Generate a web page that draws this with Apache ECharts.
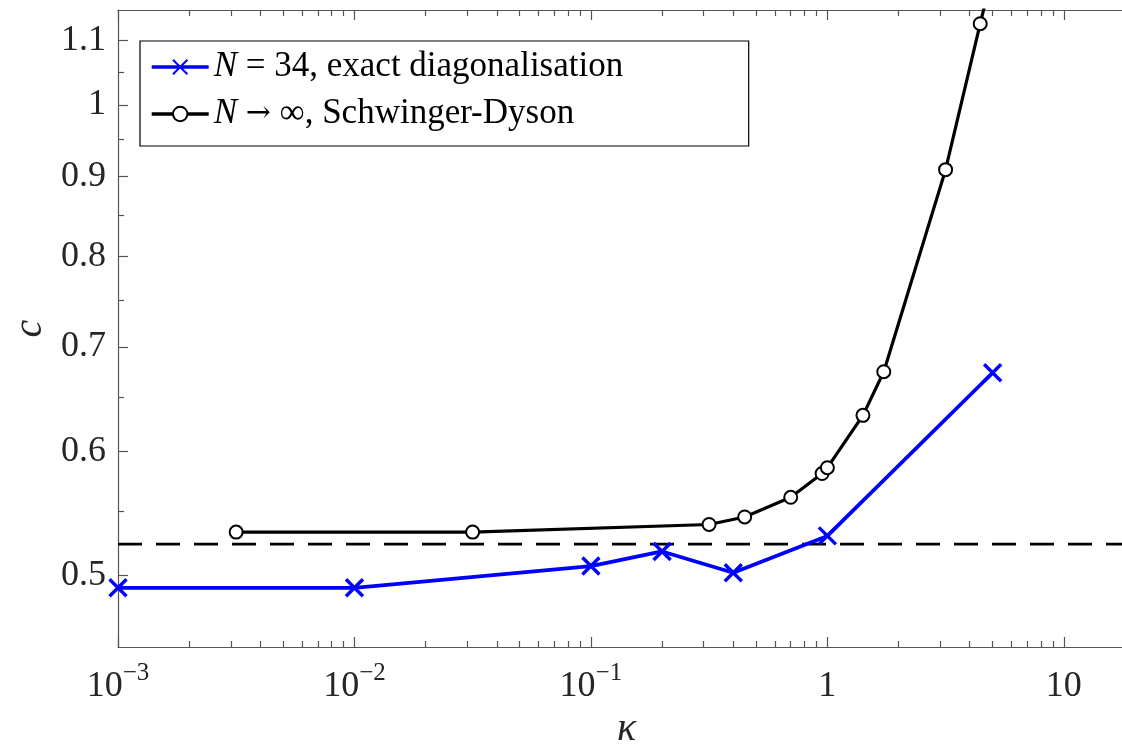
<!DOCTYPE html>
<html>
<head>
<meta charset="utf-8">
<script src="https://cdn.jsdelivr.net/npm/echarts@6/dist/echarts.min.js"></script>
<style>
    html, body { margin: 0; padding: 0; background: #fff; }
    #main { width: 1122px; height: 744px; }
</style>
</head>
<body>
<div id="main"></div>
<script>
// N = 34, exact diagonalisation
const kappaED = [0.001, 0.01, 0.1, 0.2, 0.4, 1, 5]
const cED = [0.491, 0.491, 0.507, 0.518, 0.502, 0.530, 0.674]
// N -> infinity, Schwinger-Dyson (last point lies above the frame)
const kappaSD = [0.00316, 0.0316, 0.316, 0.447, 0.7, 0.95, 1, 1.414, 1.732, 3.162, 4.43, 10]
const cSD = [0.533, 0.533, 0.539, 0.545, 0.561, 0.581, 0.586, 0.633, 0.675, 0.909, 1.127, 1.87]
// dashed reference level, drawn across the whole kappa range
const cLimit = 0.5236
const kappaLimit = [0.001, 20]

const xMajor = [0.001, 0.01, 0.1, 1, 10]
const xMinor = [0.002, 0.003, 0.004, 0.005, 0.006, 0.007, 0.008, 0.009,
    0.02, 0.03, 0.04, 0.05, 0.06, 0.07, 0.08, 0.09,
    0.2, 0.3, 0.4, 0.5, 0.6, 0.7, 0.8, 0.9,
    2, 3, 4, 5, 6, 7, 8, 9]
const yMajor = [0.5, 0.6, 0.7, 0.8, 0.9, 1, 1.1]
const yMinor = [0.55, 0.65, 0.75, 0.85, 0.95, 1.05]

const FONT = "'Liberation Serif', 'DejaVu Serif', serif"
const AXIS_COLOR = '#555'
const TEXT_COLOR = '#262626'

function zip(xs, ys) {
    return xs.map((x, i) => [x, ys[i]])
}

function xLabel(v) {
    const e = Math.round(Math.log10(v))
    if (e === 0) return '{b|1}'
    if (e === 1) return '{b|10}'
    return '{b|10}{s|\u2212' + (-e) + '}'
}

// one log axis, either the labelled one with long ticks or a bare one with short ticks
function xAxisOf(position, ticks, len, withLine, withLabels) {
    return {
        type: 'log',
        logBase: 10,
        position: position,
        min: 0.001,
        max: 20,
        axisLine: { show: withLine, onZero: false, lineStyle: { color: AXIS_COLOR, width: 1.2 } },
        axisTick: { show: true, inside: true, length: len, customValues: ticks, lineStyle: { color: AXIS_COLOR, width: 1.2 } },
        axisLabel: withLabels ? {
            show: true,
            customValues: ticks,
            margin: 14,
            formatter: xLabel,
            color: TEXT_COLOR,
            rich: {
                b: { fontFamily: FONT, fontSize: 36, lineHeight: 44, verticalAlign: 'bottom', color: TEXT_COLOR },
                s: { fontFamily: FONT, fontSize: 25, lineHeight: 24, verticalAlign: 'top', color: TEXT_COLOR }
            }
        } : { show: false },
        splitLine: { show: false },
        minorTick: { show: false }
    }
}

function yAxisOf(ticks, len, withLine, withLabels) {
    const ax = {
        type: 'log',
        logBase: 10,
        position: 'left',
        min: 0.45,
        max: 1.15,
        axisLine: { show: withLine, onZero: false, lineStyle: { color: AXIS_COLOR, width: 1.2 } },
        axisTick: { show: true, inside: true, length: len, customValues: ticks, lineStyle: { color: AXIS_COLOR, width: 1.2 } },
        axisLabel: withLabels ? {
            show: true,
            customValues: ticks,
            margin: 12,
            formatter: v => String(+v.toFixed(2)),
            fontFamily: FONT,
            fontSize: 36,
            color: TEXT_COLOR
        } : { show: false },
        splitLine: { show: false },
        minorTick: { show: false }
    }
    if (withLabels) {
        ax.name = 'c'
        ax.nameLocation = 'middle'
        ax.nameGap = 68
        ax.nameRotate = 90
        ax.nameTextStyle = { fontFamily: FONT, fontSize: 40, fontStyle: 'italic', color: TEXT_COLOR }
    }
    return ax
}

const bottomMain = xAxisOf('bottom', xMajor, 10, true, true)
bottomMain.name = '\u03ba'
bottomMain.nameLocation = 'middle'
bottomMain.nameGap = 58
bottomMain.nameTextStyle = { fontFamily: FONT, fontSize: 40, fontStyle: 'italic', color: TEXT_COLOR }

const option = {
    backgroundColor: '#fff',
    animation: false,
    grid: {
        left: 118,
        top: 10,
        right: -13,
        bottom: 97,
        containLabel: false,
        outerBoundsMode: 'none'
    },
    legend: {
        orient: 'vertical',
        left: 140,
        top: 41,
        padding: [6, 10, 12, 10],
        itemGap: 7,
        itemWidth: 57,
        itemHeight: 18,
        backgroundColor: '#fff',
        borderColor: '#000',
        borderWidth: 1.2,
        lineStyle: { width: 3.4 },
        data: ['N = 34, exact diagonalisation', 'N \u2192 \u221e, Schwinger-Dyson'],
        formatter: name => '{i|N}' + name.slice(1).replace('\u2192', '{a|\u2192}'),
        textStyle: {
            fontFamily: FONT,
            fontSize: 35,
            lineHeight: 40,
            width: 525,
            color: '#000',
            rich: {
                i: { fontFamily: FONT, fontSize: 35, lineHeight: 40, fontStyle: 'italic', color: '#000' },
                a: { fontFamily: "'DejaVu Serif', serif", fontSize: 30, lineHeight: 40, color: '#000' }
            }
        }
    },
    xAxis: [
        bottomMain,
        xAxisOf('bottom', xMinor, 6, false, false),
        xAxisOf('top', xMajor, 10, true, false),
        xAxisOf('top', xMinor, 6, false, false)
    ],
    yAxis: [
        yAxisOf(yMajor, 10, true, true),
        yAxisOf(yMinor, 6, false, false)
    ],
    series: [
        {
            name: 'limit',
            type: 'line',
            xAxisIndex: 0,
            yAxisIndex: 0,
            data: kappaLimit.map(k => [k, cLimit]),
            symbol: 'none',
            silent: true,
            lineStyle: { color: '#000', width: 2.8, type: [24, 14] },
            z: 1
        },
        {
            name: 'N = 34, exact diagonalisation',
            type: 'line',
            xAxisIndex: 0,
            yAxisIndex: 0,
            data: zip(kappaED, cED),
            symbol: 'path://M0,0L10,10M10,0L0,10',
            symbolSize: 17,
            lineStyle: { color: '#0000ff', width: 3.8 },
            itemStyle: { color: '#0000ff', borderColor: '#0000ff', borderWidth: 3.4 },
            z: 3
        },
        {
            name: 'N \u2192 \u221e, Schwinger-Dyson',
            type: 'line',
            xAxisIndex: 0,
            yAxisIndex: 0,
            data: zip(kappaSD, cSD),
            symbol: 'emptyCircle',
            symbolSize: 13,
            lineStyle: { color: '#000', width: 3.2 },
            itemStyle: { color: '#000', borderColor: '#000', borderWidth: 2.8 },
            z: 2
        }
    ]
}

const chart = echarts.init(document.getElementById('main'))
chart.setOption(option)
</script>
</body>
</html>
